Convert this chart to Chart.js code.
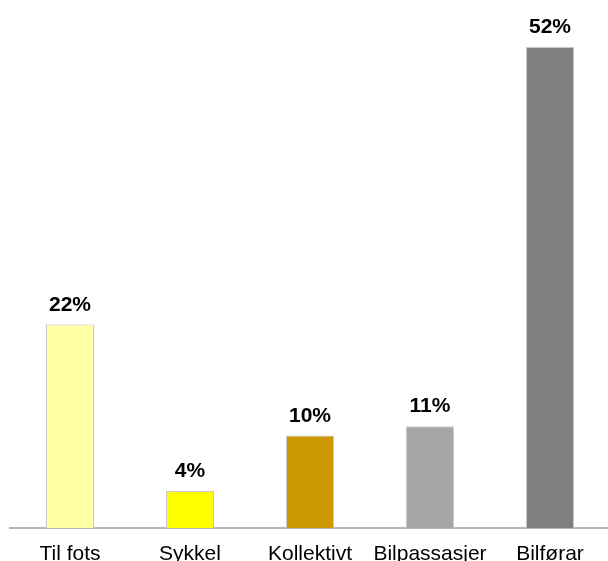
<!DOCTYPE html>
<html>
<head>
<meta charset="utf-8">
<script src="https://cdn.jsdelivr.net/npm/chart.js@4/dist/chart.umd.min.js"></script>
<style>
  html, body { margin: 0; padding: 0; background: #fff; }
  #wrap { width: 608px; height: 561px; overflow: hidden; position: relative; }
  canvas { display: block; }
</style>
</head>
<body>
<div id="wrap"><canvas id="chart" width="610" height="565"></canvas></div>
<script>
const categories = ['Til fots', 'Sykkel', 'Kollektivt', 'Bilpassasjer', 'Bilførar'];
const shares = [22, 4, 10, 11, 52];
const barColors = ['#FFFFA3', '#FFFF00', '#CC9900', '#A6A6A6', '#808080'];

// percent labels above each bar
const valueLabels = {
    id: 'valueLabels',
    afterDatasetsDraw(chart) {
        const ctx = chart.ctx;
        const meta = chart.getDatasetMeta(0);
        ctx.save();
        ctx.font = 'bold 21px "Liberation Sans", Arial, sans-serif';
        ctx.fillStyle = '#000';
        ctx.textAlign = 'center';
        ctx.textBaseline = 'alphabetic';
        meta.data.forEach((bar, i) => {
            ctx.fillText(shares[i] + '%', bar.x, bar.y - 14);
        });
        ctx.restore();
    }
};

new Chart(document.getElementById('chart').getContext('2d'), {
    type: 'bar',
    data: {
        labels: categories,
        datasets: [{
            data: shares,
            backgroundColor: barColors,
            borderColor: '#C8C8C8',
            borderWidth: 1,
            categoryPercentage: 1,
            barPercentage: 0.4
        }]
    },
    options: {
        responsive: false,
        animation: false,
        layout: { padding: { left: 10, right: 0, top: 10, bottom: 0 } },
        plugins: {
            legend: { display: false },
            tooltip: { enabled: false }
        },
        scales: {
            x: {
                grid: { display: false },
                border: { display: true, color: '#B4B4B4', width: 2 },
                ticks: {
                    color: '#000',
                    padding: 6,
                    maxRotation: 0,
                    font: { family: '"Liberation Sans", Arial, sans-serif', size: 21 }
                },
                afterFit: (scale) => { scale.height = 37; }
            },
            y: {
                display: false,
                min: 0,
                max: 56
            }
        }
    },
    plugins: [valueLabels]
});
</script>
</body>
</html>
